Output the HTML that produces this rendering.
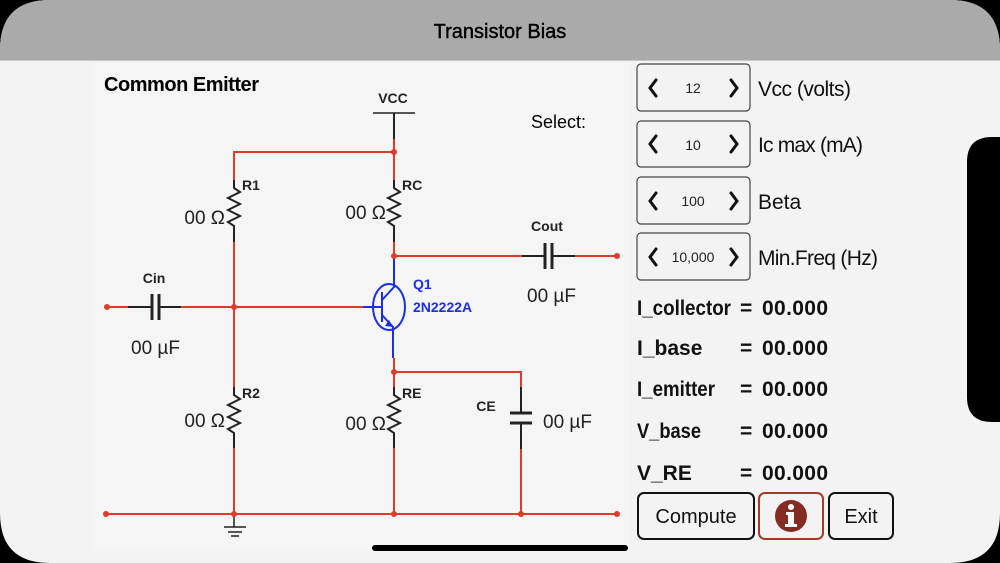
<!DOCTYPE html>
<html><head><meta charset="utf-8"><style>
html,body{margin:0;padding:0;background:#000;width:1000px;height:563px;overflow:hidden}
svg{display:block}
text{font-family:"Liberation Sans",Arial,sans-serif}
</style></head><body>
<svg width="1000" height="563" viewBox="0 0 1000 563" xmlns="http://www.w3.org/2000/svg">
<rect width="1000" height="563" fill="#000"/>
<defs><clipPath id="scr"><path d="M50,0 H950 Q1000,0 1000,50 V137 H992 Q967,137 967,162 V397 Q967,422 992,422 H1000 V513 Q1000,563 950,563 H50 Q0,563 0,513 V50 Q0,0 50,0Z"/></clipPath></defs>
<g clip-path="url(#scr)">
<rect width="1000" height="563" fill="#f3f3f3"/>
<rect x="92" y="62" width="538" height="488" fill="#f5f5f5"/>
<rect width="1000" height="60" fill="#aaaaaa"/>
<rect y="60" width="1000" height="1" fill="#c8c8c8"/>
</g>
<text x="500" y="38" font-size="20" text-anchor="middle" fill="#000" stroke="#000" stroke-width="0.4">Transistor Bias</text>
<text x="104" y="91" font-size="20" font-weight="bold" fill="#000" textLength="155">Common Emitter</text>
<text x="531" y="128" font-size="18" fill="#000">Select:</text>

<g fill="none" stroke-width="2">
<line x1="373" y1="113" x2="415" y2="113" stroke="#222" stroke-width="1.5"/>
<line x1="394" y1="113" x2="394" y2="139" stroke="#222"/>
<g stroke="#e03a28">
<path d="M394,139 V180 M234,180 V152 H394"/>
<path d="M394,242 V256 H522 M575,256 H617"/>
<path d="M234,242 V387 M107,307 H128 M181,307 H363"/>
<path d="M394,358 V387 M394,372 H521 V387 M521,449 V514 M394,448 V514 M234,448 V514 M106,514 H617"/>
</g>
<g stroke="#222">
<path d="M234,180 V188 l6,4 -12,6 12,6 -12,6 12,6 -12,6 6,4 V242"/>
<path d="M394,180 V188 l6,4 -12,6 12,6 -12,6 12,6 -12,6 6,4 V242"/>
<path d="M234,387 V395 l6,4 -12,6 12,6 -12,6 12,6 -12,6 6,4 V448"/>
<path d="M394,387 V395 l6,4 -12,6 12,6 -12,6 12,6 -12,6 6,4 V448"/>
<path d="M128,307 H152 M159,307 H181" />
<path d="M152,294 V320 M159,294 V320" stroke-width="3"/>
<path d="M522,256 H545 M552,256 H575"/>
<path d="M545,243 V269 M552,243 V269" stroke-width="3"/>
<path d="M521,387 V413 M521,423 V449"/>
<path d="M510,413 H532 M510,423 H532" stroke-width="3"/>
<path d="M234,514 V527 M224,527 H246 M228,532 H242 M231,536 H239" stroke-width="1.5"/>
</g>
<g stroke="#1a2ee8">
<path d="M394,256 V287 L382,300 M363,307 H382 M382,292 V322 M382,315 L393,327 V358"/>
<ellipse cx="389" cy="307" rx="16" ry="23"/>
</g>
</g>
<path d="M393,327 l-8,-1 4,-6z" fill="#1a2ee8"/>
<g fill="#e03a28">
<circle cx="394" cy="152" r="3"/><circle cx="394" cy="256" r="3"/><circle cx="617" cy="256" r="3"/>
<circle cx="107" cy="307" r="3"/><circle cx="234" cy="307" r="3"/><circle cx="394" cy="372" r="3"/>
<circle cx="106" cy="514" r="3"/><circle cx="234" cy="514" r="3"/><circle cx="394" cy="514" r="3"/><circle cx="521" cy="514" r="3"/><circle cx="617" cy="514" r="3"/>
</g>
<g font-size="14" font-weight="bold" fill="#222">
<text x="393" y="103" text-anchor="middle">VCC</text>
<text x="242" y="190">R1</text><text x="402" y="190">RC</text>
<text x="242" y="398">R2</text><text x="402" y="398">RE</text>
<text x="154" y="283" text-anchor="middle">Cin</text>
<text x="547" y="231" text-anchor="middle">Cout</text>
<text x="486" y="411" text-anchor="middle">CE</text>
</g>
<g font-size="14" font-weight="bold" fill="#1a2ee8">
<text x="413" y="289">Q1</text><text x="413" y="312">2N2222A</text>
</g>
<g font-size="19" fill="#222">
<text x="225" y="224" text-anchor="end">00 Ω</text>
<text x="386" y="219" text-anchor="end">00 Ω</text>
<text x="225" y="427" text-anchor="end">00 Ω</text>
<text x="386" y="430" text-anchor="end">00 Ω</text>
<text x="131" y="354">00 µF</text>
<text x="527" y="302">00 µF</text>
<text x="543" y="428">00 µF</text>
</g>
<g>
<g stroke="#444" fill="none" stroke-width="1.2">
<rect x="637" y="64" width="113" height="47" rx="4"/>
<rect x="637" y="121" width="113" height="46" rx="4"/>
<rect x="637" y="177" width="113" height="47" rx="4"/>
<rect x="637" y="233" width="113" height="47" rx="4"/>
</g>
<g stroke="#111" stroke-width="3" fill="none" stroke-linecap="round">
<path d="M656,80 l-6,8 6,8 M731,80 l6,8 -6,8"/>
<path d="M656,136 l-6,8 6,8 M731,136 l6,8 -6,8"/>
<path d="M656,193 l-6,8 6,8 M731,193 l6,8 -6,8"/>
<path d="M656,249 l-6,8 6,8 M731,249 l6,8 -6,8"/>
</g>
<g font-size="14" fill="#222" text-anchor="middle">
<text x="693" y="93">12</text><text x="693" y="150">10</text><text x="693" y="206">100</text><text x="693" y="262">10,000</text>
</g>
<g font-size="21" fill="#111">
<text x="758" y="96" textLength="93">Vcc (volts)</text>
<text x="758" y="152" textLength="105">Ic max (mA)</text>
<text x="758" y="209">Beta</text>
<text x="758" y="265" textLength="120">Min.Freq (Hz)</text>
</g>
</g>
<g font-size="21" font-weight="bold" fill="#111">
<text x="637" y="315" textLength="94" lengthAdjust="spacingAndGlyphs">I_collector</text><text x="740" y="315">=</text><text x="762" y="315" textLength="66">00.000</text>
<text x="637" y="355">I_base</text><text x="740" y="355">=</text><text x="762" y="355" textLength="66">00.000</text>
<text x="637" y="396" textLength="78" lengthAdjust="spacingAndGlyphs">I_emitter</text><text x="740" y="396">=</text><text x="762" y="396" textLength="66">00.000</text>
<text x="637" y="438" textLength="64" lengthAdjust="spacingAndGlyphs">V_base</text><text x="740" y="438">=</text><text x="762" y="438" textLength="66">00.000</text>
<text x="637" y="480">V_RE</text><text x="740" y="480">=</text><text x="762" y="480" textLength="66">00.000</text>
</g>
<rect x="638" y="493" width="116" height="46" rx="6" fill="none" stroke="#111" stroke-width="2"/>
<rect x="759" y="493" width="64" height="46" rx="6" fill="none" stroke="#a5382a" stroke-width="2"/>
<rect x="829" y="493" width="64" height="46" rx="6" fill="none" stroke="#111" stroke-width="2"/>
<text x="696" y="523" font-size="20" text-anchor="middle" fill="#111">Compute</text>
<text x="861" y="523" font-size="20" text-anchor="middle" fill="#111">Exit</text>
<circle cx="791" cy="516" r="16" fill="#862b21"/>
<circle cx="791" cy="507" r="3" fill="#fff"/>
<path d="M786,512 H794 V524 H797 V527 H785 V524 H788 V515 H786Z" fill="#fff"/>
<rect x="372" y="545" width="256" height="6" rx="3" fill="#000"/>
</svg>
</body></html>
